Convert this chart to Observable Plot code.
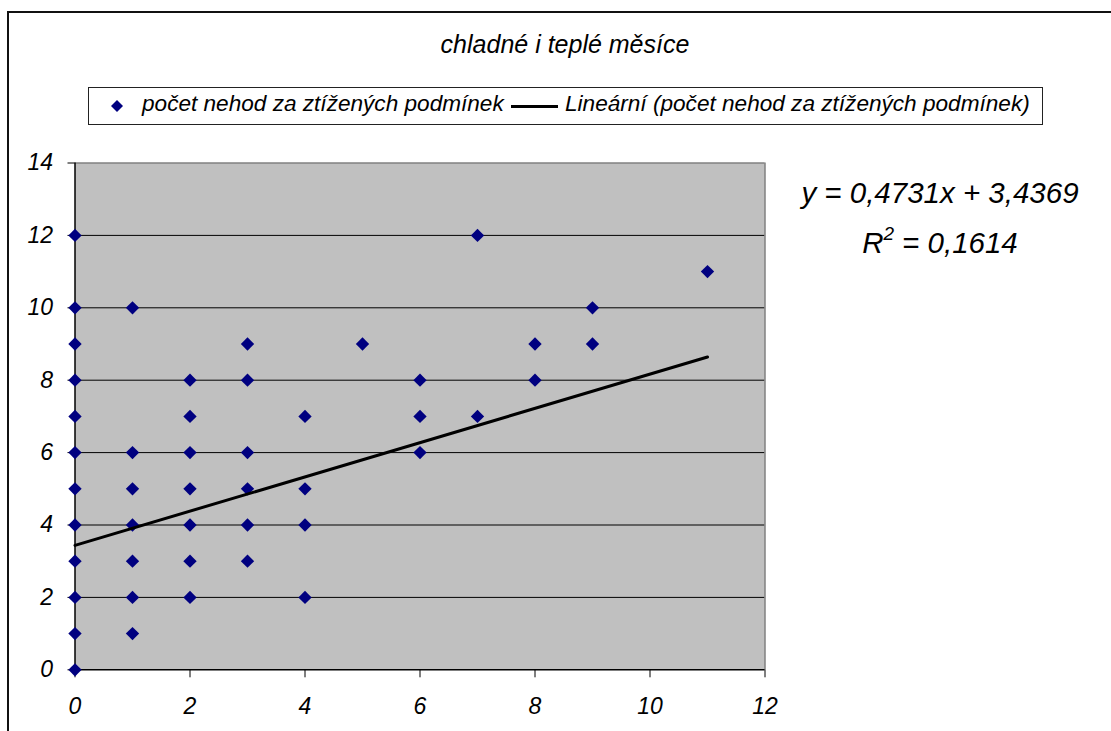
<!DOCTYPE html>
<html>
<head>
<meta charset="utf-8">
<script src="https://cdn.jsdelivr.net/npm/d3@7"></script>
<script src="https://cdn.jsdelivr.net/npm/@observablehq/plot@0.6"></script>
<style>
  html, body { margin: 0; padding: 0; background: #fff; }
  #wrap { position: relative; width: 1111px; height: 731px; overflow: hidden; font-family: "Liberation Sans", Arial, sans-serif; font-style: italic; color: #000; }
  #outer { position: absolute; left: 7px; top: 11px; width: 1200px; height: 900px; border: 2px solid #111; box-sizing: border-box; }
  #chart { position: absolute; left: 0; top: 0; }
  .abs { position: absolute; white-space: nowrap; line-height: 1; }
  #title { left: 0; width: 1130px; text-align: center; top: 32px; font-size: 25px; }
  #legend { left: 88px; top: 87px; width: 955px; height: 38px; border: 1px solid #222; box-sizing: border-box; background: #fff; }
  .leg { font-size: 22.6px; }
  .eq { left: 790px; width: 300px; text-align: center; font-size: 29.5px; }
</style>
</head>
<body>
<div id="wrap">
  <div id="outer"></div>
  <div id="chart"></div>
</div>
<script>
// ---- data ----
const title = "chladné i teplé měsíce";
const seriesName = "počet nehod za ztížených podmínek";
const trendName = "Lineární (počet nehod za ztížených podmínek)";
const xValues = [
  0,0,0,0,0,0,0,0,0,0,0,0,
  1,1,1,1,1,1,1,
  2,2,2,2,2,2,2,
  3,3,3,3,3,3,
  4,4,4,4,
  5,
  6,6,6,
  7,7,
  8,8,
  9,9,
  11
];
const yValues = [
  0,1,2,3,4,5,6,7,8,9,10,12,
  1,2,3,4,5,6,10,
  2,3,4,5,6,7,8,
  3,4,5,6,8,9,
  2,4,5,7,
  9,
  6,7,8,
  7,12,
  8,9,
  9,10,
  11
];
const slope = 0.4731;
const intercept = 3.4369;
const rSquared = 0.1614;
const xTicks = [0, 2, 4, 6, 8, 10, 12];
const yTicks = [0, 2, 4, 6, 8, 10, 12, 14];
const gridY = [2, 4, 6, 8, 10, 12];

// ---- build ----
const points = xValues.map((x, i) => ({x, y: yValues[i]}));
const [xMin, xMax] = d3.extent(xValues);
const trend = [xMin, xMax].map(x => ({x, y: intercept + slope * x}));
const fmt = v => v.toString().replace(".", ",");

const font = '"Liberation Sans", Arial, sans-serif';
const plot = Plot.plot({
  width: 1111,
  height: 731,
  marginLeft: 74.5,
  marginRight: 346.5,
  marginTop: 162.5,
  marginBottom: 61.7,
  style: {fontFamily: font, fontStyle: "italic", fontSize: "22px", background: "transparent", overflow: "visible"},
  x: {domain: [0, 12]},
  y: {domain: [0, 14]},
  marks: [
    Plot.frame({fill: "#c0c0c0", stroke: "none"}),
    Plot.ruleY(gridY, {stroke: "#000", strokeWidth: 1}),
    Plot.ruleY([14], {stroke: "#808080", strokeWidth: 1.5}),
    Plot.ruleX([12], {stroke: "#808080", strokeWidth: 1.5}),
    Plot.ruleX([0], {stroke: "#000", strokeWidth: 1.5}),
    Plot.ruleY([0], {stroke: "#000", strokeWidth: 1.5}),
    Plot.axisX({ticks: xTicks, tickSize: 8, tickPadding: 20, tickFormat: d => d, fontSize: 23, fontStyle: "italic", label: null, stroke: "#000"}),
    Plot.axisY({ticks: yTicks, tickSize: 7, tickPadding: 15, tickFormat: d => d, fontSize: 23, fontStyle: "italic", label: null, stroke: "#000"}),
    Plot.dot(points, {x: "x", y: "y", symbol: "diamond2", r: 6, fill: "#000080", stroke: "none"}),
    Plot.line(trend, {x: "x", y: "y", stroke: "#000", strokeWidth: 3})
  ]
});
document.getElementById("chart").appendChild(plot);

// ---- overlays ----
const wrap = document.getElementById("wrap");
function add(text, cls, css, id) {
  const d = document.createElement("div");
  d.className = "abs " + cls;
  if (id) d.id = id;
  d.textContent = text;
  Object.assign(d.style, css || {});
  wrap.appendChild(d);
  return d;
}
add(title, "", {}, "title");

const legend = document.createElement("div");
legend.id = "legend"; legend.className = "abs";
wrap.appendChild(legend);
const sym = document.createElementNS("http://www.w3.org/2000/svg", "svg");
sym.setAttribute("width", 14); sym.setAttribute("height", 14);
sym.style.position = "absolute"; sym.style.left = "110px"; sym.style.top = "99px";
sym.innerHTML = '<path d="M7,1L13,7L7,13L1,7Z" fill="#000080"/>';
wrap.appendChild(sym);
add(seriesName, "leg", {left: "142px", top: "93px"});
const ln = document.createElement("div");
Object.assign(ln.style, {position: "absolute", left: "511px", top: "105px", width: "47px", height: "3px", background: "#000"});
wrap.appendChild(ln);
add(trendName, "leg", {left: "565px", top: "93px"});

add("y = " + fmt(slope) + "x + " + fmt(intercept), "eq", {top: "178px"});
const e2 = add("", "eq", {top: "224px"});
e2.append("R");
const sup = document.createElement("sup");
sup.textContent = "2";
Object.assign(sup.style, {fontSize: "19px", verticalAlign: "13px", marginRight: "8px"});
e2.append(sup);
e2.append("= " + fmt(rSquared));
</script>
</body>
</html>
